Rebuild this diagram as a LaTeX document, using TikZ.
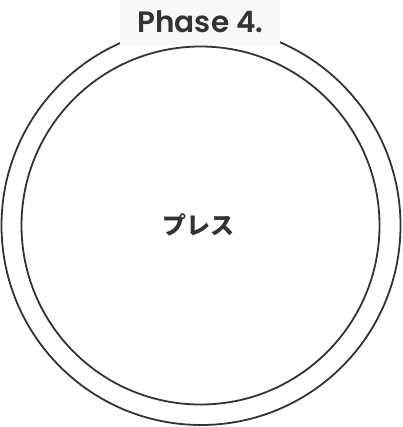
\documentclass[tikz,border=0pt]{standalone}
\usepackage{fontspec}
\setmainfont{Poppins}[BoldFont={Poppins SemiBold}]
\newfontfamily\cjk{Noto Sans CJK JP}
\definecolor{ink}{HTML}{333333}
\definecolor{tagbg}{HTML}{F8F8F8}
\begin{document}
\begin{tikzpicture}[x=1pt,y=-1pt,
  ring/.style={draw=ink,line width=1.8pt},
  tag/.style={fill=tagbg,inner sep=0pt,minimum width=160pt,minimum height=45pt},
  tagtext/.style={text=ink,font=\fontsize{29.5}{31}\selectfont\bfseries,inner sep=0pt,anchor=base},
  core/.style={text=ink,font=\cjk\fontsize{24}{28}\selectfont\bfseries}]
\useasboundingbox (0,0) rectangle (402,427);
\node[circle,ring,minimum size=399pt,inner sep=0pt] (outer) at (201,225.5) {};
\node[circle,ring,minimum size=358pt,inner sep=0pt] (inner) at (200.5,225.5) {};
\node[tag] (label) at (200,22.5) {};
\node[tagtext] (labeltext) at (200.5,33) {Phase 4.};
\node[core] (title) at (198,225) {プレス};
\end{tikzpicture}
\end{document}
